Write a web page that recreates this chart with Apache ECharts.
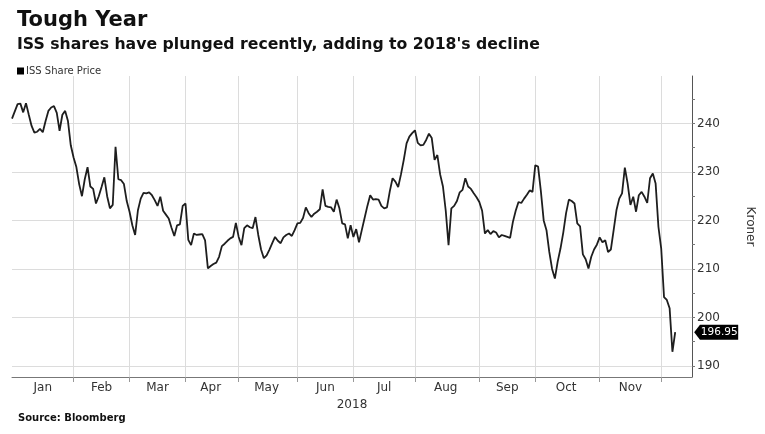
<!DOCTYPE html>
<html>
<head>
<meta charset="utf-8">
<script src="https://cdn.jsdelivr.net/npm/echarts@6/dist/echarts.min.js"></script>
<style>
html,body{margin:0;padding:0;background:#fff;}
#chart{width:765px;height:434px;}
</style>
</head>
<body>
<div id="chart"></div>
<script>
// ---- data (ISS share price, DKK, trading days 2018) ----
const months = ['Jan','Feb','Mar','Apr','May','Jun','Jul','Aug','Sep','Oct','Nov','Dec'];
const monthSlots = [22,20,20,19,21,20,22,23,20,23,22,12];
const labeledMonths = 11; // Jan..Nov carry a label
const yTicks = [190,200,210,220,230,240];
const lastPrice = 196.95;

const pricesJan = [241.0,242.5,244.0,244.1,242.3,244.2,241.8,239.5,238.1,238.3,238.9,238.2,240.5,242.6,243.3,243.6,242.2,238.5,241.8,242.6,240.5,235.5];
const pricesFeb = [233.0,231.0,227.5,225.0,228.5,231.0,227.0,226.5,223.5,225.0,226.9,228.9,225.0,222.5,223.2,235.2,228.5,228.3,227.5,224.0];
const pricesMar = [221.8,219.0,217.0,222.1,224.5,225.7,225.6,225.8,225.2,224.2,223.0,224.9,222.0,221.2,220.4,218.5,216.8,219.0,219.2,223.0];
const pricesApr = [223.5,216.0,214.9,217.3,217.0,217.1,217.2,215.9,210.1,210.6,211.0,211.3,212.5,214.7,215.2,215.8,216.3,216.6,219.5];
const pricesMay = [216.6,214.9,218.4,219.0,218.6,218.4,220.7,217.0,214.0,212.2,212.8,214.0,215.3,216.6,215.8,215.3,216.5,217.0,217.3,216.8,218.0];
const pricesJun = [219.4,219.5,220.5,222.7,221.5,220.7,221.4,221.8,222.3,226.4,223.0,222.8,222.7,221.8,224.3,222.5,219.4,219.2,216.3,219.0];
const pricesJul = [216.6,218.2,215.5,218.0,220.5,223.0,225.2,224.3,224.4,224.3,223.0,222.5,222.7,226.0,228.7,228.0,226.9,229.5,232.5,235.9,237.3,238.0];
const pricesAug = [238.6,236.0,235.5,235.6,236.6,237.9,237.0,232.5,233.5,229.5,227.0,222.0,214.9,222.5,223.0,224.0,225.8,226.3,228.7,227.0,226.5,225.6,224.8];
const pricesSep = [223.8,222.0,217.3,218.0,217.2,217.8,217.5,216.5,217.0,216.8,216.6,216.4,219.7,222.0,223.8,223.6,224.5,225.3,226.2,225.9];
const pricesOct = [231.4,231.1,226.0,220.0,218.0,213.5,210.0,208.0,211.5,214.2,217.5,221.5,224.3,224.0,223.5,219.4,218.8,213.0,212.0,210.1,212.5,214.0,215.0];
const pricesNov = [216.5,215.5,215.9,213.5,214.0,218.0,222.1,224.5,225.6,230.9,227.6,223.2,224.9,221.8,225.2,225.9,224.9,223.6,228.7,229.7,227.6,218.7];
const pricesDec = [214.2,204.2,203.6,201.9,192.9,196.95];

// ---- build category axis ----
const categories = [];
const monthStarts = new Set();
const monthMids = new Set();
let idx = 0;
monthSlots.forEach((n, m) => {
  monthStarts.add(idx);
  if (m < labeledMonths) monthMids.add(idx + Math.floor(n / 2));
  for (let d = 0; d < n; d++) categories.push(months[m] + ' ' + (d + 1));
  idx += n;
});
const prices = [].concat(pricesJan, pricesFeb, pricesMar, pricesApr, pricesMay, pricesJun,
  pricesJul, pricesAug, pricesSep, pricesOct, pricesNov, pricesDec);
const lastIndex = prices.length - 1;

const FONT = 'DejaVu Sans, Verdana, sans-serif';
const chart = echarts.init(document.getElementById('chart'), null, {renderer: 'canvas'});
chart.setOption({
  animation: false,
  backgroundColor: '#ffffff',
  title: [
    {text: 'Tough Year', left: 12, top: 5,
     textStyle: {fontFamily: FONT, fontSize: 21, fontWeight: 'bold', color: '#111'}},
    {text: "ISS shares have plunged recently, adding to 2018's decline", left: 12, top: 32,
     textStyle: {fontFamily: FONT, fontSize: 15.7, fontWeight: 'bold', color: '#111'}},
    {text: 'Source: Bloomberg', left: 13, top: 408,
     textStyle: {fontFamily: FONT, fontSize: 10, fontWeight: 'bold', color: '#111'}}
  ],
  legend: {
    left: 12, top: 61, icon: 'rect', itemWidth: 7, itemHeight: 7, itemGap: 10,
    textStyle: {fontFamily: FONT, fontSize: 10, color: '#333', padding: [0, 0, 0, -3]},
    data: ['ISS Share Price']
  },
  grid: {left: 12, right: 73, top: 76, bottom: 57, containLabel: false},
  xAxis: {
    type: 'category',
    data: categories,
    boundaryGap: false,
    name: '2018',
    nameLocation: 'middle',
    nameGap: 21,
    nameTextStyle: {fontFamily: FONT, fontSize: 12, color: '#333'},
    axisLine: {show: true, lineStyle: {color: '#777', width: 1}},
    axisTick: {show: true, length: 5, interval: (i) => monthStarts.has(i) && i > 0, lineStyle: {color: '#999'}},
    axisLabel: {
      interval: (i) => monthMids.has(i),
      formatter: (v) => v.split(' ')[0],
      fontFamily: FONT, fontSize: 12, color: '#333', margin: 5
    },
    splitLine: {show: true, interval: (i) => monthStarts.has(i) && i > 0,
      lineStyle: {color: '#dcdcdc', width: 1}}
  },
  yAxis: {
    type: 'value',
    position: 'right',
    min: 187.7,
    max: 249.8,
    splitNumber: 12,
    name: 'Kroner',
    nameLocation: 'middle',
    nameRotate: -90,
    nameGap: 52,
    nameTextStyle: {fontFamily: FONT, fontSize: 12, color: '#333'},
    axisLine: {show: true, lineStyle: {color: '#555', width: 1}},
    axisTick: {show: true, length: 3, lineStyle: {color: '#777'}},
    axisLabel: {
      showMinLabel: false, showMaxLabel: false,
      formatter: (v) => (Math.abs(v % 10) < 1e-6 ? String(Math.round(v)) : ''),
      fontFamily: FONT, fontSize: 12, color: '#333', margin: 5
    },
    splitLine: {show: false}
  },
  series: [{
    name: 'ISS Share Price',
    type: 'line',
    data: prices,
    symbol: 'none',
    z: 3,
    lineStyle: {color: '#1e1e1e', width: 1.8},
    itemStyle: {color: '#000'},
    markLine: {
      silent: true, symbol: 'none', z: 1,
      label: {show: false},
      lineStyle: {color: '#dcdcdc', width: 1, type: 'solid'},
      data: yTicks.map(v => ({yAxis: v}))
    },
    markPoint: {
      silent: true,
      symbol: 'path://M0,7 L6,0 L46,0 L46,14 L6,14 Z',
      symbolSize: [44, 15],
      symbolKeepAspect: false,
      symbolOffset: [41, 0],
      itemStyle: {color: '#000'},
      label: {show: true, position: 'inside', offset: [3, 0], color: '#fff',
        fontFamily: FONT, fontSize: 10.5, formatter: () => lastPrice.toFixed(2)},
      data: [{coord: [lastIndex, lastPrice]}]
    }
  }]
});
</script>
</body>
</html>
